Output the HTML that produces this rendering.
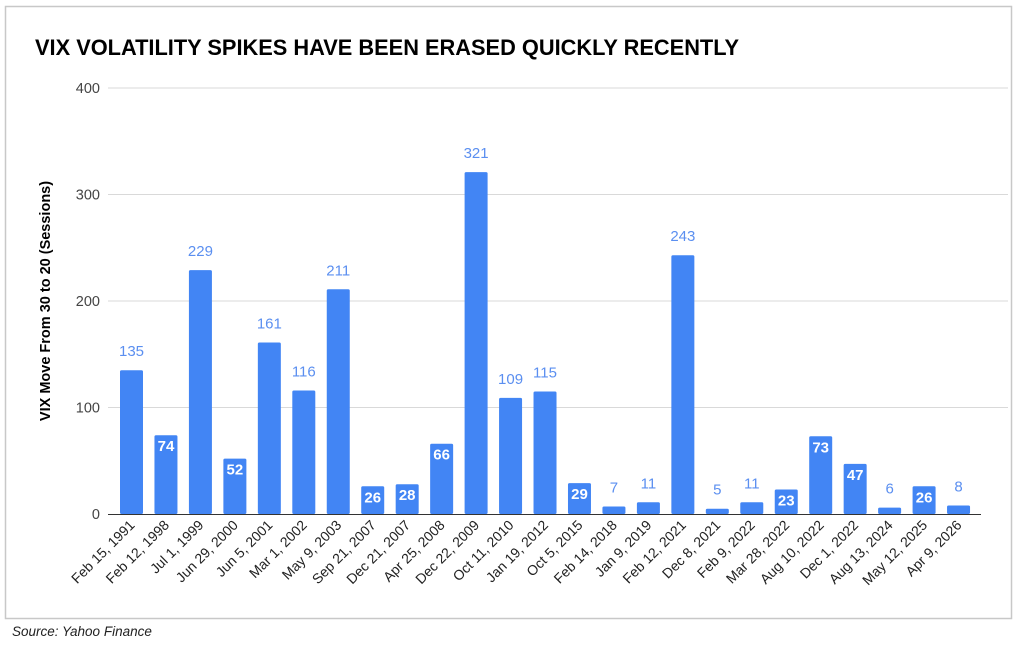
<!DOCTYPE html>
<html><head><meta charset="utf-8"><style>
body{margin:0;background:#fff;}
svg{display:block;font-family:"Liberation Sans",Arial,sans-serif;}
</style></head><body>
<svg width="1024" height="645" xmlns="http://www.w3.org/2000/svg">
<rect x="5.5" y="6.5" width="1006" height="612" fill="#fff" stroke="#c8c8c8" stroke-width="1.5"/>
<text x="35" y="55" font-size="21.8" font-weight="bold" fill="#000">VIX VOLATILITY SPIKES HAVE BEEN ERASED QUICKLY RECENTLY</text>
<g stroke="#d9d9d9" stroke-width="1">
<line x1="108" x2="1008" y1="88" y2="88"/>
<line x1="108" x2="1008" y1="194.5" y2="194.5"/>
<line x1="108" x2="1008" y1="301" y2="301"/>
<line x1="108" x2="1008" y1="407.5" y2="407.5"/>
</g>
<g font-size="14.5" fill="#444" text-anchor="end">
<text x="100" y="93">400</text><text x="100" y="199.5">300</text><text x="100" y="306">200</text><text x="100" y="412.5">100</text><text x="100" y="519">0</text>
</g>
<text transform="translate(50,301) rotate(-90)" text-anchor="middle" font-size="14.5" font-weight="bold" fill="#000">VIX Move From 30 to 20 (Sessions)</text>
<g fill="#4285f4">
<rect x="120" y="370.2" width="23" height="143.8" rx="1.5"/>
<rect x="154.46" y="435.2" width="23" height="78.8" rx="1.5"/>
<rect x="188.92" y="270.1" width="23" height="243.9" rx="1.5"/>
<rect x="223.38" y="458.6" width="23" height="55.4" rx="1.5"/>
<rect x="257.84" y="342.5" width="23" height="171.5" rx="1.5"/>
<rect x="292.3" y="390.5" width="23" height="123.5" rx="1.5"/>
<rect x="326.76" y="289.3" width="23" height="224.7" rx="1.5"/>
<rect x="361.22" y="486.3" width="23" height="27.7" rx="1.5"/>
<rect x="395.68" y="484.2" width="23" height="29.8" rx="1.5"/>
<rect x="430.14" y="443.7" width="23" height="70.3" rx="1.5"/>
<rect x="464.6" y="172.1" width="23" height="341.9" rx="1.5"/>
<rect x="499.06" y="397.9" width="23" height="116.1" rx="1.5"/>
<rect x="533.52" y="391.5" width="23" height="122.5" rx="1.5"/>
<rect x="567.98" y="483.1" width="23" height="30.9" rx="1.5"/>
<rect x="602.44" y="506.5" width="23" height="7.5" rx="1.5"/>
<rect x="636.9" y="502.3" width="23" height="11.7" rx="1.5"/>
<rect x="671.36" y="255.2" width="23" height="258.8" rx="1.5"/>
<rect x="705.82" y="508.7" width="23" height="5.3" rx="1.5"/>
<rect x="740.28" y="502.3" width="23" height="11.7" rx="1.5"/>
<rect x="774.74" y="489.5" width="23" height="24.5" rx="1.5"/>
<rect x="809.2" y="436.3" width="23" height="77.7" rx="1.5"/>
<rect x="843.66" y="463.9" width="23" height="50.1" rx="1.5"/>
<rect x="878.12" y="507.6" width="23" height="6.4" rx="1.5"/>
<rect x="912.58" y="486.3" width="23" height="27.7" rx="1.5"/>
<rect x="947.04" y="505.5" width="23" height="8.5" rx="1.5"/>
</g>
<g font-size="15" text-anchor="middle" fill="#5b8ff0">
<text x="131.5" y="356.2">135</text>
<text x="200.42" y="256.1">229</text>
<text x="269.34" y="328.5">161</text>
<text x="303.8" y="376.5">116</text>
<text x="338.26" y="275.3">211</text>
<text x="476.1" y="158.1">321</text>
<text x="510.56" y="383.9">109</text>
<text x="545.02" y="377.5">115</text>
<text x="613.94" y="492.5">7</text>
<text x="648.4" y="488.3">11</text>
<text x="682.86" y="241.2">243</text>
<text x="717.32" y="494.7">5</text>
<text x="751.78" y="488.3">11</text>
<text x="889.62" y="493.6">6</text>
<text x="958.54" y="491.5">8</text>
</g>
<g font-size="15" font-weight="bold" text-anchor="middle" fill="#fff">
<text x="165.96" y="451.2">74</text>
<text x="234.88" y="474.6">52</text>
<text x="372.72" y="502.3">26</text>
<text x="407.18" y="500.2">28</text>
<text x="441.64" y="459.7">66</text>
<text x="579.48" y="499.1">29</text>
<text x="786.24" y="505.5">23</text>
<text x="820.7" y="452.3">73</text>
<text x="855.16" y="479.9">47</text>
<text x="924.08" y="502.3">26</text>
</g>
<line x1="108" x2="981" y1="514.5" y2="514.5" stroke="#333" stroke-width="1"/>
<g font-size="14" fill="#222" text-anchor="end">
<text transform="translate(135.5,526) rotate(-45)">Feb 15, 1991</text>
<text transform="translate(169.96,526) rotate(-45)">Feb 12, 1998</text>
<text transform="translate(204.42,526) rotate(-45)">Jul 1, 1999</text>
<text transform="translate(238.88,526) rotate(-45)">Jun 29, 2000</text>
<text transform="translate(273.34,526) rotate(-45)">Jun 5, 2001</text>
<text transform="translate(307.8,526) rotate(-45)">Mar 1, 2002</text>
<text transform="translate(342.26,526) rotate(-45)">May 9, 2003</text>
<text transform="translate(376.72,526) rotate(-45)">Sep 21, 2007</text>
<text transform="translate(411.18,526) rotate(-45)">Dec 21, 2007</text>
<text transform="translate(445.64,526) rotate(-45)">Apr 25, 2008</text>
<text transform="translate(480.1,526) rotate(-45)">Dec 22, 2009</text>
<text transform="translate(514.56,526) rotate(-45)">Oct 11, 2010</text>
<text transform="translate(549.02,526) rotate(-45)">Jan 19, 2012</text>
<text transform="translate(583.48,526) rotate(-45)">Oct 5, 2015</text>
<text transform="translate(617.94,526) rotate(-45)">Feb 14, 2018</text>
<text transform="translate(652.4,526) rotate(-45)">Jan 9, 2019</text>
<text transform="translate(686.86,526) rotate(-45)">Feb 12, 2021</text>
<text transform="translate(721.32,526) rotate(-45)">Dec 8, 2021</text>
<text transform="translate(755.78,526) rotate(-45)">Feb 9, 2022</text>
<text transform="translate(790.24,526) rotate(-45)">Mar 28, 2022</text>
<text transform="translate(824.7,526) rotate(-45)">Aug 10, 2022</text>
<text transform="translate(859.16,526) rotate(-45)">Dec 1, 2022</text>
<text transform="translate(893.62,526) rotate(-45)">Aug 13, 2024</text>
<text transform="translate(928.08,526) rotate(-45)">May 12, 2025</text>
<text transform="translate(962.54,526) rotate(-45)">Apr 9, 2026</text>
</g>
<text x="12" y="636" font-size="13.5" font-style="italic" fill="#222">Source: Yahoo Finance</text>
</svg>
</body></html>
